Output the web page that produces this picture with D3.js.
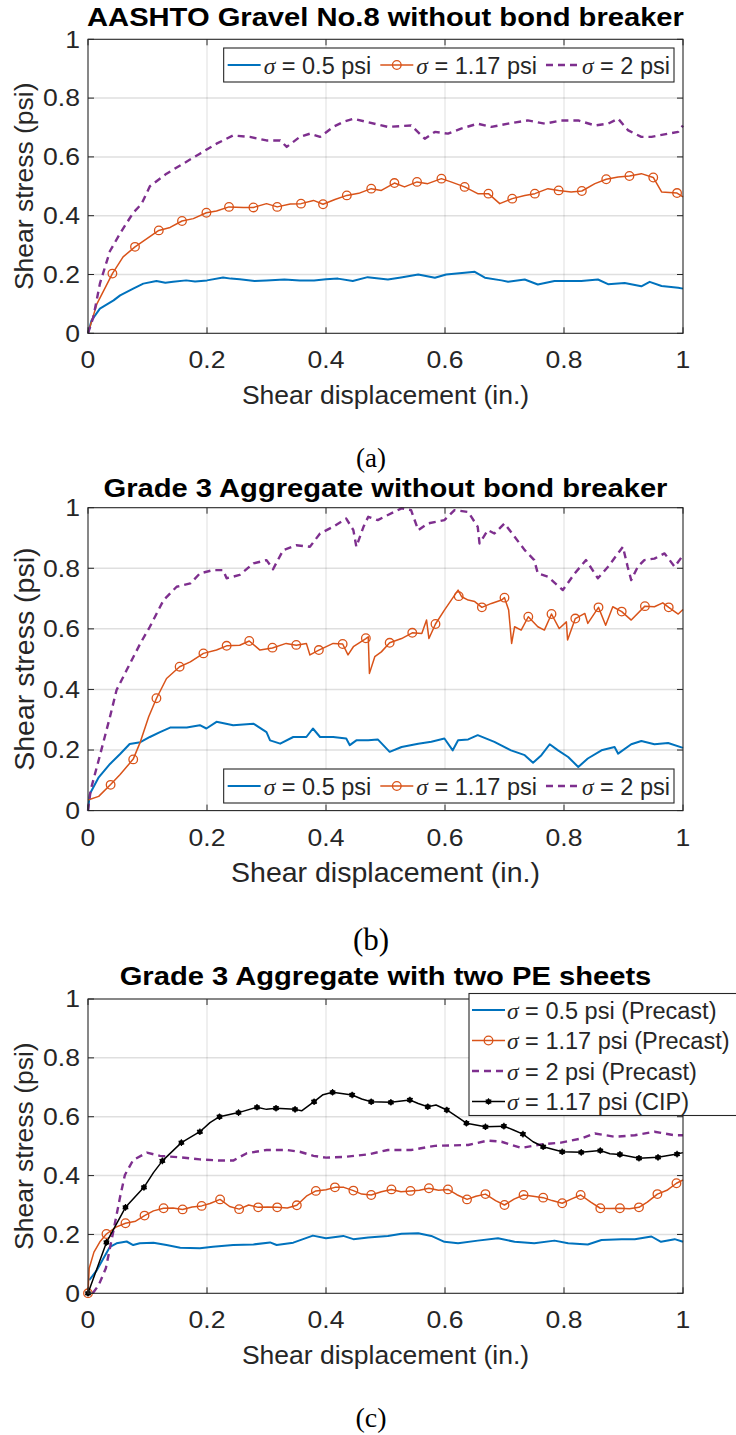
<!DOCTYPE html>
<html>
<head>
<meta charset="utf-8">
<script src="https://cdn.jsdelivr.net/npm/d3@7"></script>
<style>
body { margin: 0; background: #fff; }
text { font-family: "Liberation Sans", Arial, sans-serif; fill: #262626; }
</style>
</head>
<body>
<svg class="chart" width="736" height="1435"></svg>
<script>
// ---- data: [shear displacement (in.), shear stress (psi)] ----
const aBlue = [[0,0],[0.006,0.044],[0.02,0.084],[0.043,0.112],[0.054,0.129],[0.076,0.152],[0.093,0.169],[0.115,0.178],[0.13,0.172],[0.143,0.175],[0.165,0.18],[0.18,0.176],[0.2,0.18],[0.227,0.19],[0.24,0.186],[0.255,0.184],[0.28,0.178],[0.3,0.18],[0.33,0.183],[0.356,0.18],[0.38,0.18],[0.4,0.184],[0.42,0.186],[0.445,0.178],[0.47,0.191],[0.504,0.183],[0.526,0.19],[0.555,0.2],[0.583,0.189],[0.602,0.2],[0.633,0.206],[0.65,0.209],[0.667,0.189],[0.695,0.18],[0.706,0.175],[0.734,0.183],[0.756,0.166],[0.784,0.178],[0.829,0.178],[0.857,0.183],[0.874,0.167],[0.902,0.171],[0.93,0.16],[0.944,0.175],[0.964,0.161],[0.992,0.155],[1.0,0.152]];
const aOrange = [[0,0],[0.015,0.10],[0.041,0.203],[0.059,0.26],[0.079,0.294],[0.099,0.322],[0.119,0.35],[0.138,0.36],[0.158,0.382],[0.177,0.39],[0.199,0.41],[0.216,0.416],[0.237,0.43],[0.261,0.428],[0.278,0.428],[0.30,0.441],[0.318,0.43],[0.34,0.44],[0.358,0.441],[0.379,0.452],[0.395,0.439],[0.415,0.455],[0.435,0.469],[0.455,0.476],[0.476,0.492],[0.493,0.486],[0.515,0.511],[0.532,0.498],[0.553,0.515],[0.571,0.509],[0.594,0.526],[0.61,0.515],[0.633,0.498],[0.655,0.475],[0.673,0.475],[0.692,0.441],[0.713,0.458],[0.734,0.469],[0.751,0.475],[0.773,0.492],[0.791,0.486],[0.812,0.481],[0.830,0.484],[0.852,0.509],[0.871,0.524],[0.891,0.532],[0.91,0.535],[0.93,0.543],[0.95,0.53],[0.964,0.481],[0.99,0.477],[1.0,0.464]];
const aOrangeMarks = [[0.041,0.203],[0.079,0.294],[0.119,0.35],[0.158,0.382],[0.199,0.41],[0.237,0.43],[0.278,0.428],[0.318,0.43],[0.358,0.441],[0.395,0.439],[0.435,0.469],[0.476,0.492],[0.515,0.511],[0.553,0.515],[0.594,0.526],[0.633,0.498],[0.673,0.475],[0.713,0.458],[0.751,0.475],[0.791,0.486],[0.830,0.484],[0.871,0.524],[0.91,0.535],[0.95,0.53],[0.99,0.477]];
const aPurple = [[0,0],[0.009,0.055],[0.02,0.169],[0.037,0.28],[0.054,0.34],[0.076,0.41],[0.09,0.44],[0.104,0.50],[0.132,0.543],[0.16,0.577],[0.188,0.611],[0.216,0.645],[0.244,0.673],[0.272,0.668],[0.30,0.656],[0.323,0.656],[0.334,0.634],[0.356,0.668],[0.373,0.679],[0.39,0.668],[0.412,0.702],[0.429,0.719],[0.446,0.73],[0.468,0.719],[0.504,0.702],[0.543,0.707],[0.566,0.662],[0.583,0.685],[0.605,0.679],[0.627,0.696],[0.655,0.713],[0.678,0.702],[0.706,0.713],[0.739,0.724],[0.768,0.713],[0.795,0.724],[0.824,0.724],[0.852,0.707],[0.874,0.713],[0.891,0.73],[0.908,0.69],[0.93,0.668],[0.947,0.668],[0.975,0.679],[0.992,0.685],[1.0,0.707]];

const bBlue = [[0,0],[0.003,0.055],[0.018,0.11],[0.037,0.154],[0.054,0.187],[0.07,0.22],[0.088,0.226],[0.104,0.243],[0.121,0.259],[0.138,0.274],[0.166,0.274],[0.188,0.282],[0.199,0.271],[0.216,0.293],[0.244,0.282],[0.278,0.287],[0.30,0.259],[0.306,0.232],[0.323,0.221],[0.345,0.243],[0.367,0.243],[0.378,0.271],[0.39,0.243],[0.412,0.243],[0.434,0.238],[0.44,0.216],[0.451,0.232],[0.471,0.232],[0.487,0.235],[0.507,0.194],[0.527,0.21],[0.555,0.221],[0.577,0.227],[0.599,0.238],[0.613,0.199],[0.622,0.232],[0.639,0.235],[0.655,0.249],[0.683,0.227],[0.711,0.199],[0.734,0.183],[0.748,0.158],[0.762,0.183],[0.776,0.219],[0.79,0.199],[0.807,0.177],[0.824,0.144],[0.84,0.172],[0.863,0.199],[0.885,0.21],[0.891,0.188],[0.913,0.219],[0.93,0.23],[0.952,0.219],[0.975,0.223],[1.0,0.207]];
const bOrange = [[0,0.035],[0.018,0.047],[0.038,0.086],[0.054,0.119],[0.076,0.17],[0.088,0.227],[0.102,0.31],[0.115,0.37],[0.132,0.436],[0.154,0.475],[0.172,0.491],[0.194,0.519],[0.216,0.53],[0.233,0.544],[0.255,0.546],[0.271,0.56],[0.289,0.53],[0.31,0.537],[0.333,0.552],[0.35,0.546],[0.367,0.552],[0.373,0.514],[0.388,0.53],[0.412,0.552],[0.428,0.55],[0.437,0.514],[0.446,0.541],[0.467,0.568],[0.471,0.574],[0.473,0.453],[0.482,0.508],[0.493,0.524],[0.507,0.554],[0.527,0.568],[0.545,0.587],[0.561,0.585],[0.569,0.629],[0.573,0.568],[0.584,0.616],[0.599,0.662],[0.622,0.728],[0.628,0.706],[0.639,0.695],[0.65,0.69],[0.662,0.671],[0.678,0.684],[0.695,0.695],[0.70,0.703],[0.707,0.662],[0.712,0.552],[0.717,0.607],[0.728,0.596],[0.74,0.64],[0.756,0.607],[0.767,0.596],[0.779,0.649],[0.792,0.601],[0.804,0.623],[0.806,0.563],[0.819,0.634],[0.835,0.651],[0.84,0.618],[0.858,0.671],[0.87,0.612],[0.882,0.673],[0.897,0.657],[0.913,0.629],[0.936,0.675],[0.952,0.673],[0.966,0.686],[0.976,0.671],[0.992,0.649],[1.0,0.664]];
const bOrangeMarks = [[0.038,0.085],[0.076,0.169],[0.115,0.371],[0.154,0.475],[0.194,0.519],[0.233,0.544],[0.271,0.56],[0.31,0.538],[0.35,0.547],[0.388,0.53],[0.428,0.55],[0.467,0.569],[0.507,0.554],[0.545,0.587],[0.584,0.616],[0.623,0.708],[0.662,0.671],[0.70,0.703],[0.74,0.64],[0.779,0.649],[0.819,0.634],[0.858,0.671],[0.897,0.657],[0.936,0.675],[0.976,0.671]];
const bPurple = [[0,0],[0.0045,0.068],[0.018,0.167],[0.037,0.31],[0.048,0.398],[0.065,0.464],[0.088,0.552],[0.104,0.607],[0.127,0.695],[0.149,0.739],[0.172,0.75],[0.188,0.783],[0.21,0.794],[0.227,0.794],[0.233,0.767],[0.255,0.778],[0.278,0.816],[0.30,0.827],[0.311,0.797],[0.328,0.86],[0.35,0.876],[0.373,0.871],[0.39,0.915],[0.412,0.937],[0.434,0.964],[0.446,0.926],[0.451,0.871],[0.463,0.937],[0.471,0.97],[0.487,0.959],[0.498,0.97],[0.527,0.998],[0.543,0.992],[0.555,0.926],[0.571,0.948],[0.599,0.959],[0.616,0.992],[0.639,0.986],[0.655,0.937],[0.658,0.882],[0.672,0.926],[0.683,0.915],[0.70,0.948],[0.717,0.904],[0.734,0.86],[0.75,0.827],[0.756,0.783],[0.773,0.772],[0.798,0.728],[0.818,0.783],[0.837,0.827],[0.857,0.767],[0.874,0.805],[0.899,0.871],[0.907,0.805],[0.913,0.761],[0.924,0.805],[0.935,0.827],[0.952,0.832],[0.969,0.849],[0.986,0.805],[1.0,0.843]];

const cBlue = [[0.002,0.045],[0.008,0.06],[0.015,0.079],[0.026,0.119],[0.037,0.158],[0.048,0.17],[0.065,0.176],[0.076,0.164],[0.087,0.17],[0.11,0.172],[0.132,0.164],[0.155,0.155],[0.188,0.153],[0.21,0.158],[0.244,0.164],[0.278,0.166],[0.306,0.173],[0.317,0.164],[0.345,0.172],[0.378,0.196],[0.40,0.187],[0.429,0.195],[0.446,0.184],[0.471,0.19],[0.504,0.195],[0.527,0.202],[0.555,0.204],[0.577,0.195],[0.599,0.175],[0.622,0.17],[0.655,0.179],[0.689,0.187],[0.717,0.175],[0.75,0.17],[0.784,0.179],[0.807,0.17],[0.84,0.166],[0.863,0.181],[0.897,0.184],[0.919,0.184],[0.947,0.193],[0.963,0.175],[0.986,0.184],[1.0,0.175]];
const cOrange = [[0,0],[0.002,0.085],[0.01,0.14],[0.02,0.175],[0.031,0.2015],[0.047,0.225],[0.063,0.238],[0.08,0.245],[0.095,0.264],[0.11,0.28],[0.127,0.289],[0.143,0.29],[0.159,0.285],[0.175,0.293],[0.191,0.297],[0.205,0.305],[0.222,0.319],[0.238,0.295],[0.254,0.286],[0.27,0.3],[0.286,0.292],[0.302,0.293],[0.318,0.292],[0.335,0.29],[0.351,0.299],[0.367,0.33],[0.383,0.348],[0.4,0.352],[0.415,0.36],[0.43,0.36],[0.446,0.349],[0.46,0.337],[0.476,0.334],[0.493,0.345],[0.51,0.353],[0.526,0.345],[0.542,0.348],[0.557,0.35],[0.573,0.357],[0.589,0.35],[0.605,0.353],[0.62,0.335],[0.637,0.319],[0.652,0.33],[0.668,0.337],[0.685,0.315],[0.70,0.30],[0.716,0.32],[0.732,0.334],[0.748,0.33],[0.765,0.325],[0.78,0.315],[0.797,0.306],[0.812,0.32],[0.828,0.334],[0.845,0.31],[0.861,0.289],[0.877,0.288],[0.894,0.289],[0.91,0.287],[0.926,0.292],[0.94,0.31],[0.957,0.337],[0.973,0.35],[0.989,0.374],[1.0,0.385]];
const cOrangeMarks = [[0,0],[0.031,0.2015],[0.063,0.238],[0.095,0.264],[0.127,0.289],[0.159,0.285],[0.191,0.297],[0.222,0.319],[0.254,0.286],[0.286,0.292],[0.318,0.292],[0.351,0.299],[0.383,0.348],[0.415,0.36],[0.446,0.349],[0.476,0.334],[0.51,0.353],[0.542,0.348],[0.573,0.357],[0.605,0.353],[0.637,0.319],[0.668,0.337],[0.70,0.30],[0.732,0.334],[0.765,0.325],[0.797,0.306],[0.828,0.334],[0.861,0.289],[0.894,0.289],[0.926,0.292],[0.957,0.337],[0.989,0.374]];
const cPurple = [[0.008,0],[0.018,0.028],[0.03,0.085],[0.043,0.215],[0.054,0.328],[0.062,0.402],[0.076,0.453],[0.099,0.478],[0.121,0.467],[0.155,0.462],[0.188,0.455],[0.222,0.451],[0.244,0.451],[0.267,0.476],[0.30,0.487],[0.334,0.487],[0.356,0.481],[0.379,0.467],[0.40,0.461],[0.434,0.464],[0.471,0.472],[0.504,0.487],[0.543,0.487],[0.583,0.501],[0.639,0.504],[0.672,0.519],[0.695,0.515],[0.728,0.494],[0.762,0.506],[0.795,0.512],[0.829,0.526],[0.852,0.543],[0.885,0.532],[0.919,0.537],[0.952,0.549],[0.986,0.537],[1.0,0.537]];
const cBlack = [[0,0],[0.031,0.173],[0.063,0.292],[0.094,0.36],[0.11,0.41],[0.125,0.45],[0.157,0.512],[0.188,0.549],[0.205,0.58],[0.221,0.60],[0.253,0.614],[0.284,0.632],[0.3,0.625],[0.316,0.629],[0.348,0.625],[0.359,0.62],[0.38,0.651],[0.395,0.675],[0.411,0.683],[0.444,0.674],[0.46,0.66],[0.476,0.651],[0.509,0.649],[0.541,0.657],[0.555,0.645],[0.571,0.634],[0.585,0.64],[0.603,0.623],[0.62,0.6],[0.636,0.578],[0.668,0.566],[0.699,0.568],[0.715,0.555],[0.731,0.541],[0.748,0.515],[0.765,0.498],[0.797,0.481],[0.829,0.479],[0.861,0.485],[0.877,0.474],[0.894,0.472],[0.926,0.459],[0.958,0.462],[0.99,0.473],[1.0,0.478]];
const cBlackMarks = [[0,0],[0.031,0.173],[0.063,0.292],[0.094,0.36],[0.125,0.45],[0.157,0.512],[0.188,0.549],[0.221,0.60],[0.253,0.614],[0.284,0.632],[0.316,0.629],[0.348,0.625],[0.38,0.651],[0.411,0.683],[0.444,0.674],[0.476,0.651],[0.509,0.649],[0.541,0.657],[0.571,0.634],[0.603,0.623],[0.636,0.578],[0.668,0.566],[0.699,0.568],[0.731,0.541],[0.765,0.498],[0.797,0.481],[0.829,0.479],[0.861,0.485],[0.894,0.472],[0.926,0.459],[0.958,0.462],[0.99,0.473]];

const xTicks = [0, 0.2, 0.4, 0.6, 0.8, 1];
const yTicks = [0, 0.2, 0.4, 0.6, 0.8, 1];
const titles = ["AASHTO Gravel No.8 without bond breaker", "Grade 3 Aggregate without bond breaker", "Grade 3 Aggregate with two PE sheets"];
const subLabels = ["(a)", "(b)", "(c)"];
const legendAB = [" = 0.5 psi", " = 1.17 psi", " = 2 psi"];
const legendC = [" = 0.5 psi (Precast)", " = 1.17 psi (Precast)", " = 2 psi (Precast)", " = 1.17 psi (CIP)"];
const xLabel = "Shear displacement (in.)";
const yLabel = "Shear stress (psi)";

const blue = "#0072BD", orange = "#D95319", purple = "#7E2F8E", black = "#000000";

const svg = d3.select(".chart");
svg.append("rect").attr("width", 736).attr("height", 1435).attr("fill", "#fff");

const left = 88, right = 683;
const x = d3.scaleLinear().domain([0, 1]).range([left, right]);

// the figure's text is a little wider than Arial, so widen it around its anchor
function widen(sel, sx) {
    sel.attr("transform", function () {
        const ax = +d3.select(this).attr("x");
        return `translate(${ax},0) scale(${sx},1) translate(${-ax},0)`;
    });
}

function sigmaText(t, rest) {
    t.append("tspan")
        .style("font-family", "'Liberation Serif', 'Times New Roman', serif")
        .style("font-style", "italic")
        .text("σ");
    t.append("tspan").text(rest);
}

function drawSample(g, s, x0, yc) {
    g.append("line")
        .attr("x1", x0).attr("x2", x0 + 33)
        .attr("y1", yc).attr("y2", yc)
        .attr("stroke", s.color)
        .attr("stroke-width", s.width)
        .attr("stroke-dasharray", s.dash || null);
    if (s.marker === "circle") {
        g.append("circle").attr("cx", x0 + 16.5).attr("cy", yc).attr("r", 4.3)
            .attr("fill", "none").attr("stroke", s.color).attr("stroke-width", 1.3);
    } else if (s.marker === "star") {
        g.append("circle").attr("cx", x0 + 16.5).attr("cy", yc).attr("r", 2.6).attr("fill", s.color);
        g.append("path").attr("transform", `translate(${x0 + 16.5},${yc})`)
            .attr("d", d3.symbol(d3.symbolAsterisk, 30)())
            .attr("stroke", s.color).attr("stroke-width", 1.2);
    }
}

function drawPanel(cfg) {
    const y = d3.scaleLinear().domain([0, 1]).range([cfg.bottom, cfg.top]);
    const g = svg.append("g");

    // grid
    g.selectAll(".gx").data(xTicks.slice(1, -1)).enter().append("line")
        .attr("x1", d => x(d)).attr("x2", d => x(d))
        .attr("y1", cfg.top).attr("y2", cfg.bottom)
        .attr("stroke", "#262626").attr("stroke-opacity", 0.15).attr("stroke-width", 1);
    g.selectAll(".gy").data(yTicks.slice(1, -1)).enter().append("line")
        .attr("x1", left).attr("x2", right)
        .attr("y1", d => y(d)).attr("y2", d => y(d))
        .attr("stroke", "#262626").attr("stroke-opacity", 0.15).attr("stroke-width", 1.5);

    // clip to axes
    const clipId = "clip" + cfg.id;
    svg.append("clipPath").attr("id", clipId).append("rect")
        .attr("x", left - 5).attr("y", cfg.top - 2)
        .attr("width", right - left + 6).attr("height", cfg.bottom - cfg.top + 7);
    const plot = g.append("g").attr("clip-path", `url(#${clipId})`);

    const line = d3.line().x(d => x(d[0])).y(d => y(d[1]));
    cfg.series.forEach(s => {
        plot.append("path")
            .attr("d", line(s.data))
            .attr("fill", "none")
            .attr("stroke", s.color)
            .attr("stroke-width", s.width)
            .attr("stroke-linejoin", "round")
            .attr("stroke-dasharray", s.dash || null);
        if (s.marks && s.marker === "circle") {
            plot.selectAll(null).data(s.marks).enter().append("circle")
                .attr("cx", d => x(d[0])).attr("cy", d => y(d[1])).attr("r", 4.3)
                .attr("fill", "none").attr("stroke", s.color).attr("stroke-width", 1.3);
        }
        if (s.marks && s.marker === "star") {
            plot.selectAll(null).data(s.marks).enter().append("circle")
                .attr("cx", d => x(d[0])).attr("cy", d => y(d[1])).attr("r", 2.6)
                .attr("fill", s.color);
            plot.selectAll(null).data(s.marks).enter().append("path")
                .attr("transform", d => `translate(${x(d[0])},${y(d[1])})`)
                .attr("d", d3.symbol(d3.symbolAsterisk, 30)())
                .attr("stroke", s.color).attr("stroke-width", 1.2);
        }
    });

    // box and inward ticks
    g.append("rect").attr("x", left).attr("y", cfg.top)
        .attr("width", right - left).attr("height", cfg.bottom - cfg.top)
        .attr("fill", "none").attr("stroke", "#262626").attr("stroke-width", 1.1);
    xTicks.forEach(t => {
        g.append("line").attr("x1", x(t)).attr("x2", x(t)).attr("y1", cfg.bottom).attr("y2", cfg.bottom - 6)
            .attr("stroke", "#262626");
        g.append("line").attr("x1", x(t)).attr("x2", x(t)).attr("y1", cfg.top).attr("y2", cfg.top + 6)
            .attr("stroke", "#262626");
    });
    yTicks.forEach(t => {
        g.append("line").attr("x1", left).attr("x2", left + 6).attr("y1", y(t)).attr("y2", y(t))
            .attr("stroke", "#262626");
        g.append("line").attr("x1", right).attr("x2", right - 6).attr("y1", y(t)).attr("y2", y(t))
            .attr("stroke", "#262626");
    });

    // tick labels
    g.selectAll(".xl").data(xTicks).enter().append("text")
        .attr("x", d => x(d)).attr("y", cfg.bottom + 35)
        .attr("text-anchor", "middle").style("font-size", "23.5px")
        .text(d => d3.format("~g")(d))
        .call(widen, 1.13);
    g.selectAll(".yl").data(yTicks).enter().append("text")
        .attr("x", left - 8).attr("y", d => y(d) + 8.3)
        .attr("text-anchor", "end").style("font-size", "23.5px")
        .text(d => d3.format("~g")(d))
        .call(widen, 1.13);

    // labels
    g.append("text").attr("x", (left + right) / 2).attr("y", cfg.bottom + 71)
        .attr("text-anchor", "middle").style("font-size", cfg.labelSize + "px").text(xLabel);
    g.append("text")
        .attr("transform", `translate(${cfg.yLabelX},${(cfg.top + cfg.bottom) / 2}) rotate(-90)`)
        .attr("text-anchor", "middle").style("font-size", cfg.labelSize + "px").text(yLabel);
    g.append("text").attr("x", (left + right) / 2).attr("y", cfg.titleY)
        .attr("text-anchor", "middle").style("font-size", "26.5px").style("font-weight", "bold")
        .style("fill", "#000").text(cfg.title)
        .call(widen, 1.1);
    g.append("text").attr("x", 371).attr("y", cfg.subY)
        .attr("text-anchor", "middle")
        .style("font-family", "'Liberation Serif', 'Times New Roman', serif")
        .style("font-size", cfg.subSize + "px").style("fill", "#000").text(cfg.sub);

    // legend
    const lg = g.append("g");
    const box = lg.append("rect").attr("fill", "#fff").attr("stroke", "#262626").attr("stroke-width", 1.1);
    if (cfg.legend === "row") {
        let cx = 0;
        const items = [];
        cfg.series.forEach((s, i) => {
            const t = lg.append("text").attr("y", cfg.legendY + 8.5).style("font-size", "23.5px");
            sigmaText(t, cfg.labels[i]);
            const w = t.node().getComputedTextLength();
            items.push({ s, t, start: cx });
            cx += 36 + w + 9;
        });
        const total = cx - 9 + 8;
        const bx = cfg.legendRight - total;
        items.forEach(it => {
            drawSample(lg, it.s, bx + 4 + it.start, cfg.legendY);
            it.t.attr("x", bx + 4 + it.start + 36);
        });
        box.attr("x", bx).attr("y", cfg.legendY - 17).attr("width", total).attr("height", 34);
    } else {
        const bx = 469, rowH = 30.5, y0 = 1010;
        cfg.series.forEach((s, i) => {
            drawSample(lg, s, bx + 3, y0 + i * rowH);
            const t = lg.append("text").attr("x", bx + 38).attr("y", y0 + i * rowH + 8.5)
                .style("font-size", "23.5px");
            sigmaText(t, cfg.labels[i]);
        });
        box.attr("x", bx).attr("y", 993.5).attr("width", 280).attr("height", 122);
    }
}

const blueS = d => ({ data: d, color: blue, width: 2 });
const orangeS = (d, m) => ({ data: d, marks: m, color: orange, width: 1.5, marker: "circle" });
const purpleS = d => ({ data: d, color: purple, width: 2.4, dash: "7,5" });

drawPanel({
    id: "a", top: 39.3, bottom: 333.3, titleY: 26.5, subY: 467, labelSize: 26.5, yLabelX: 33, subSize: 27,
    title: titles[0], sub: subLabels[0], legend: "row", legendY: 65, legendRight: 674, labels: legendAB,
    series: [blueS(aBlue), orangeS(aOrange, aOrangeMarks), purpleS(aPurple)]
});
drawPanel({
    id: "b", top: 507.7, bottom: 810.6, titleY: 497, subY: 950, labelSize: 28.5, yLabelX: 34, subSize: 31,
    title: titles[1], sub: subLabels[1], legend: "row", legendY: 786, legendRight: 674, labels: legendAB,
    series: [blueS(bBlue), orangeS(bOrange, bOrangeMarks), purpleS(bPurple)]
});
drawPanel({
    id: "c", top: 999, bottom: 1293.3, titleY: 985.5, subY: 1427, labelSize: 26.5, yLabelX: 33, subSize: 28,
    title: titles[2], sub: subLabels[2], legend: "column", labels: legendC,
    series: [blueS(cBlue), orangeS(cOrange, cOrangeMarks), purpleS(cPurple),
        { data: cBlack, marks: cBlackMarks, color: black, width: 1.5, marker: "star" }]
});
</script>
</body>
</html>
